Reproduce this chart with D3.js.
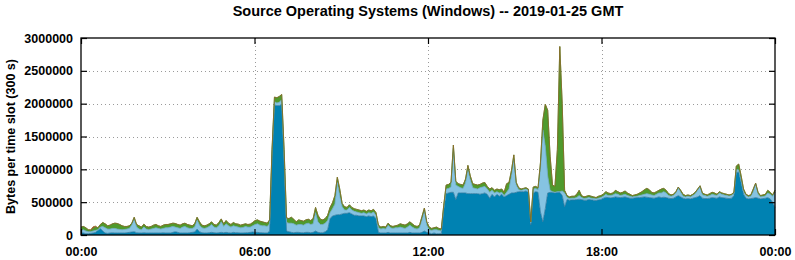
<!DOCTYPE html>
<html>

<head>
  <title>Source Operating Systems (Windows)</title>
  <script type="text/javascript" src="https://cdn.jsdelivr.net/npm/d3@7"></script>
  <style>
    body { margin: 0; background: #fff; }
    text { font-family: "Liberation Sans", Arial, sans-serif; font-weight: bold; fill: #000; }
  </style>
</head>

<body>
  <script type="text/javascript">
    // size of the picture and the plot box
    const w = 795;
    const h = 260;
    const margin = { top: 38, right: 20, bottom: 25, left: 81 };

    const title = "Source Operating Systems (Windows) -- 2019-01-25 GMT";
    const yLabel = "Bytes per time slot (300 s)";
    const yTicks = [0, 500000, 1000000, 1500000, 2000000, 2500000, 3000000];
    const xTickLabels = ["00:00", "06:00", "12:00", "18:00", "00:00"];

    // one value per 5 minute slot, in kB (1000 bytes), 12 values per line = one hour
    const win10 = [
      30, 30, 20, 20, 25, 30, 40, 70, 100, 60, 30, 25,
      30, 35, 30, 30, 30, 30, 30, 35, 40, 45, 50, 35,
      30, 30, 35, 30, 30, 30, 30, 30, 30, 30, 35, 30,
      30, 30, 40, 50, 40, 30, 30, 30, 30, 35, 40, 45,
      90, 50, 35, 30, 30, 35, 40, 35, 30, 35, 40, 35,
      40, 35, 30, 40, 35, 35, 30, 30, 35, 35, 40, 45,
      40, 40, 35, 35, 30, 30, 60, 1200, 1980, 1970, 1970, 1990,
      1100, 60, 50, 40, 35, 40, 40, 35, 35, 40, 40, 35,
      40, 60, 40, 35, 35, 50, 80, 250, 290, 300, 310, 310,
      320, 330, 330, 340, 320, 300, 300, 290, 290, 290, 280, 290,
      280, 290, 250, 40, 30, 30, 30, 40, 30, 30, 30, 30,
      30, 30, 30, 30, 40, 30, 30, 30, 30, 40, 60, 40,
      30, 20, 30, 20, 20, 20, 380, 630, 640, 650, 650, 540,
      640, 640, 640, 640, 630, 630, 630, 630, 630, 620, 630, 640,
      620, 560, 620, 580, 620, 590, 620, 580, 600, 620, 640, 640,
      650, 660, 660, 660, 670, 650, 150, 640, 660, 650, 350, 200,
      400, 640, 650, 650, 640, 650, 650, 600, 430, 540, 530, 535,
      535, 540, 545, 540, 530, 530, 540, 535, 530, 525, 535, 540,
      560, 575, 570, 565, 570, 580, 575, 570, 575, 580, 570, 560,
      560, 565, 570, 570, 575, 580, 575, 570, 565, 560, 570, 580,
      570, 575, 570, 560, 555, 560, 580, 600, 580, 560, 550, 555,
      550, 560, 570, 580, 600, 560, 555, 555, 560, 570, 565, 560,
      580, 570, 565, 560, 555, 560, 600, 950, 960, 800, 620, 560,
      550, 555, 560, 570, 560, 550, 555, 560, 570, 550, 500, 420
    ];
    const win7 = [
      40, 50, 40, 30, 25, 30, 30, 10, 20, 70, 80, 65,
      60, 65, 70, 60, 55, 50, 55, 55, 60, 105, 190, 85,
      60, 50, 85, 60, 50, 60, 70, 80, 70, 60, 65, 80,
      80, 90, 90, 70, 70, 70, 90, 100, 80, 65, 60, 75,
      140, 100, 75, 70, 80, 95, 120, 85, 80, 105, 160, 95,
      130, 105, 90, 100, 95, 85, 80, 85, 95, 85, 80, 95,
      120, 130, 115, 105, 110, 100, 110, 50, 50, 40, 50, 70,
      100, 130, 130, 140, 135, 110, 120, 125, 115, 130, 140, 125,
      130, 280, 160, 125, 125, 130, 140, 90, 110, 170, 490, 290,
      110, 50, 50, 80, 60, 60, 50, 50, 40, 50, 40, 50,
      50, 60, 50, 70, 60, 70, 60, 110, 80, 70, 80, 80,
      90, 80, 70, 90, 110, 90, 70, 60, 80, 190, 300, 110,
      50, 50, 50, 60, 50, 40, 40, 70, 70, 80, 670, 220,
      100, 80, 70, 150, 360, 210, 90, 80, 70, 100, 100, 100,
      80, 90, 60, 60, 40, 50, 30, 20, 50, 80, 260, 510,
      110, 30, 20, 30, 30, 30, 30, 60, 50, 40, 650, 1400,
      950, 260, 30, 10, 10, 10, 10, 70, 210, 30, 25, 25,
      25, 30, 55, 30, 25, 30, 30, 25, 25, 25, 25, 30,
      30, 45, 30, 35, 40, 50, 45, 30, 35, 40, 30, 30,
      20, 20, 20, 30, 35, 40, 55, 50, 45, 40, 50, 60,
      70, 85, 70, 40, 35, 40, 60, 120, 70, 30, 30, 35,
      30, 40, 60, 100, 140, 50, 45, 35, 40, 50, 45, 40,
      60, 50, 45, 40, 40, 40, 30, 50, 30, 20, 40, 40,
      30, 35, 100, 210, 60, 30, 30, 35, 70, 70, 90, 230
    ];
    const win8 = [
      50, 50, 50, 30, 20, 40, 50, 30, 40, 60, 60, 50,
      60, 70, 80, 85, 75, 60, 45, 40, 40, 30, 30, 40,
      50, 40, 45, 40, 40, 40, 50, 50, 40, 40, 50, 50,
      50, 50, 50, 55, 50, 50, 50, 50, 50, 50, 40, 50,
      40, 50, 40, 40, 40, 40, 40, 40, 40, 50, 45, 40,
      50, 40, 40, 50, 40, 45, 40, 45, 40, 40, 45, 50,
      60, 60, 60, 60, 50, 50, 60, 50, 70, 80, 90, 80,
      100, 70, 70, 90, 70, 50, 70, 60, 60, 60, 60, 60,
      80, 80, 100, 80, 70, 70, 80, 80, 90, 130, 80, 100,
      50, 50, 40, 40, 40, 40, 40, 40, 40, 40, 40, 40,
      40, 40, 40, 40, 30, 30, 30, 30, 30, 30, 30, 40,
      50, 50, 50, 50, 50, 50, 40, 40, 40, 50, 50, 50,
      40, 30, 30, 40, 30, 30, 30, 60, 60, 70, 50, 60,
      40, 50, 50, 60, 70, 60, 60, 60, 60, 50, 60, 60,
      40, 50, 40, 40, 40, 50, 50, 50, 130, 100, 80, 70,
      40, 30, 20, 20, 20, 20, 20, 30, 30, 30, 100, 150,
      640, 1000, 520, 100, 90, 640, 2210, 1330, 40, 30, 25, 30,
      30, 50, 80, 30, 25, 30, 30, 30, 25, 20, 30, 30,
      30, 40, 40, 30, 30, 50, 40, 40, 40, 50, 40, 30,
      20, 25, 30, 40, 50, 70, 80, 70, 40, 40, 40, 40,
      60, 50, 40, 30, 20, 20, 20, 10, 30, 30, 20, 20,
      20, 20, 20, 20, 10, 30, 20, 20, 30, 30, 30, 20,
      20, 20, 20, 20, 15, 20, 20, 50, 90, 80, 40, 20,
      20, 20, 40, 10, 30, 20, 25, 25, 40, 30, 20, 30
    ];
    // the small red layer only shows near 00:25
    const winOther = new Array(288).fill(0);
    winOther[4] = 10; winOther[5] = 25; winOther[6] = 15;

    const keys = ["win10", "win7", "win8", "winOther"];
    const colors = { win10: "#0082b2", win7: "#86c3e2", win8: "#4f9a2c", winOther: "#c8402a" };
    const edges = { win10: "#2f7aa0", win7: "#6aa8c8", win8: "#3f8a24", winOther: "#8e6a2a" };

    const day0 = new Date(Date.UTC(2019, 0, 25));
    const day1 = new Date(Date.UTC(2019, 0, 26));
    const n = win10.length;

    const rows = win10.map(function (d, i) {
      return {
        t: new Date(day0.getTime() + i * (day1 - day0) / (n - 1)),
        win10: d * 1000,
        win7: win7[i] * 1000,
        win8: win8[i] * 1000,
        winOther: winOther[i] * 1000
      };
    });

    const series = d3.stack().keys(keys)(rows);

    const xScale = d3.scaleUtc()
      .domain([day0, day1])
      .range([margin.left, w - margin.right]);
    const yScale = d3.scaleLinear()
      .domain([0, 3000000])
      .range([h - margin.bottom, margin.top]);

    const svg = d3.select("body")
      .append("svg")
      .attr("width", w)
      .attr("height", h);

    const xTicks = d3.utcHours(day0, new Date(day1.getTime() + 1), 6);

    // dotted grid behind the data
    const grid = svg.append("g")
      .attr("stroke", "#9a9a9a")
      .attr("stroke-width", 1)
      .attr("stroke-dasharray", "1,3");
    grid.selectAll("line.gy")
      .data(yTicks.slice(1, -1))
      .enter()
      .append("line")
      .attr("x1", margin.left)
      .attr("x2", w - margin.right)
      .attr("y1", function (d) { return Math.round(yScale(d)) + 0.5; })
      .attr("y2", function (d) { return Math.round(yScale(d)) + 0.5; });
    grid.selectAll("line.gx")
      .data(xTicks.slice(1, -1))
      .enter()
      .append("line")
      .attr("x1", function (d) { return Math.round(xScale(d)) + 0.5; })
      .attr("x2", function (d) { return Math.round(xScale(d)) + 0.5; })
      .attr("y1", margin.top)
      .attr("y2", h - margin.bottom);

    // stacked areas
    const area = d3.area()
      .x(function (d) { return xScale(d.data.t); })
      .y0(function (d) { return yScale(d[0]); })
      .y1(function (d) { return yScale(d[1]); });
    const topLine = d3.line()
      .x(function (d) { return xScale(d.data.t); })
      .y(function (d) { return yScale(d[1]); });

    svg.selectAll("path.layer")
      .data(series)
      .enter()
      .append("path")
      .attr("class", "layer")
      .attr("fill", function (d) { return colors[d.key]; })
      .attr("d", area);

    svg.selectAll("path.edge")
      .data(series)
      .enter()
      .append("path")
      .attr("class", "edge")
      .attr("fill", "none")
      .attr("stroke", function (d) { return edges[d.key]; })
      .attr("stroke-width", 0.8)
      .attr("d", topLine);

    // axes, gnuplot style: ticks inside, mirrored on all four sides
    const yAxisL = d3.axisLeft(yScale).tickValues(yTicks).tickSize(-6).tickPadding(8)
      .tickFormat(d3.format("d"));
    const yAxisR = d3.axisRight(yScale).tickValues(yTicks).tickSize(-6).tickFormat("");
    const xAxisB = d3.axisBottom(xScale).tickValues(xTicks).tickSize(-6).tickPadding(12)
      .tickFormat(function (d, i) { return xTickLabels[i]; });
    const xAxisT = d3.axisTop(xScale).tickValues(xTicks).tickSize(-6).tickFormat("");

    svg.append("g").attr("transform", "translate(" + margin.left + ",0)").call(yAxisL);
    svg.append("g").attr("transform", "translate(" + (w - margin.right) + ",0)").call(yAxisR);
    svg.append("g").attr("transform", "translate(0," + (h - margin.bottom) + ")").call(xAxisB);
    svg.append("g").attr("transform", "translate(0," + margin.top + ")").call(xAxisT);

    svg.selectAll(".domain").remove();
    svg.selectAll(".tick line").attr("stroke", "#000").attr("stroke-width", 1.2);
    svg.selectAll(".tick text")
      .attr("font-family", "'Liberation Sans', Arial, sans-serif")
      .attr("font-weight", "bold")
      .attr("font-size", 12.5)
      .attr("fill", "#000");

    // border
    svg.append("rect")
      .attr("x", margin.left)
      .attr("y", margin.top)
      .attr("width", w - margin.left - margin.right)
      .attr("height", h - margin.top - margin.bottom)
      .attr("fill", "none")
      .attr("stroke", "#000")
      .attr("stroke-width", 1.3);

    svg.append("text")
      .attr("x", (margin.left + w - margin.right) / 2)
      .attr("y", 16)
      .attr("text-anchor", "middle")
      .attr("font-size", 14.5)
      .text(title);

    svg.append("text")
      .attr("transform", "translate(15," + ((margin.top + h - margin.bottom) / 2) + ") rotate(-90)")
      .attr("text-anchor", "middle")
      .attr("font-size", 12.5)
      .text(yLabel);
  </script>
</body>

</html>
